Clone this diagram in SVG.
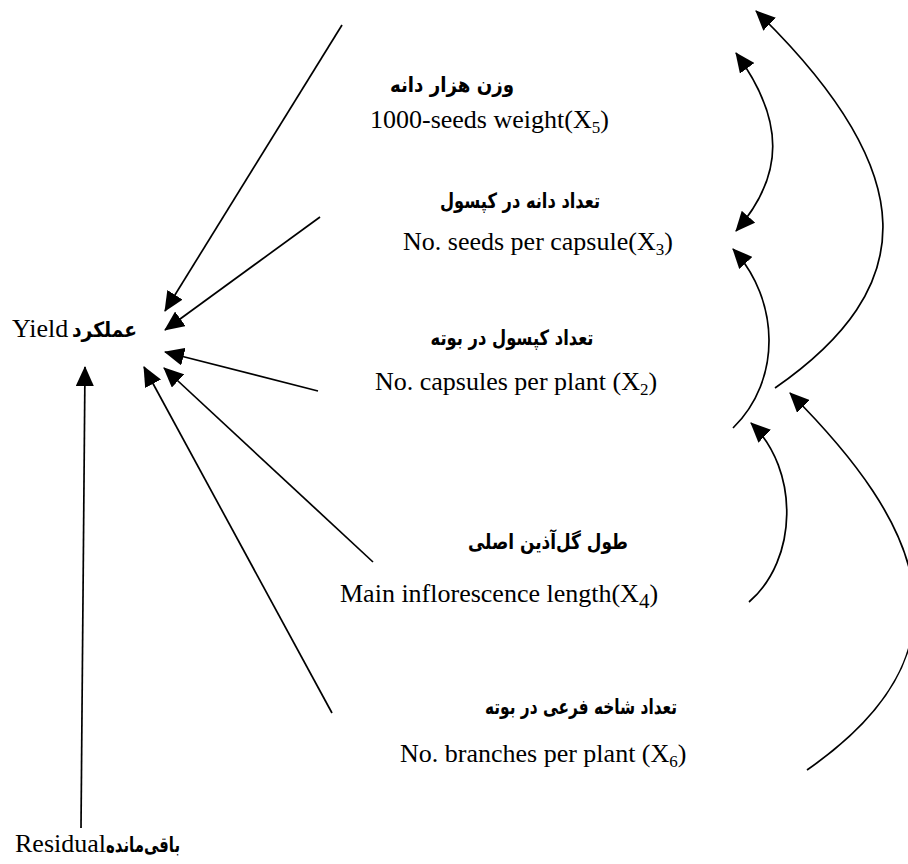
<svg xmlns="http://www.w3.org/2000/svg" width="908" height="864" viewBox="0 0 908 864">
<style>
.en{font-family:"Liberation Serif","Times New Roman",serif;font-size:26px;fill:#000}
.fa{font-family:"DejaVu Sans",sans-serif;font-weight:bold;font-size:21px;fill:#000}
.sub{font-size:17px}
.edge{fill:none;stroke:#000;stroke-width:1.7;marker-end:url(#ah)}
</style>
<defs>
<marker id="ah" markerUnits="userSpaceOnUse" markerWidth="20" markerHeight="18" viewBox="0 0 20 18" refX="19" refY="9" orient="auto">
<path d="M0,0 L20,9 L0,18 Z" fill="#000"/>
</marker>
<marker id="ahs" markerUnits="userSpaceOnUse" markerWidth="20" markerHeight="18" viewBox="0 0 20 18" refX="19" refY="9" orient="auto-start-reverse">
<path d="M0,0 L20,9 L0,18 Z" fill="#000"/>
</marker>
</defs>
<g id="connectors">
<path class="edge" d="M342,25 L165,311"/>
<path class="edge" d="M320,217 L165,330"/>
<path class="edge" d="M318,391 L165,352"/>
<path class="edge" d="M373,562 L164,368"/>
<path class="edge" d="M332,713 L144,367"/>
<path class="edge" d="M81,828 L85,367"/>
<path class="edge" d="M775,388 C919,288 925,175 756,11"/>
<path class="edge" style="marker-start:url(#ahs)" d="M736,53 C785,120 785,175 736,231"/>
<path class="edge" d="M733,428 C782,380 780,300 733,249"/>
<path class="edge" d="M749,602 C798,560 800,470 751,423"/>
<path class="edge" d="M807,770 C980,650 922,525 790,393"/>
</g>
<g id="node-yield">
<text class="en" x="12" y="337" font-size="24">Yield</text>
<text class="fa" x="72" y="337" font-size="19" textLength="65" lengthAdjust="spacingAndGlyphs">عملکرد</text>
</g>
<g id="node-x5">
<text class="fa" x="452" y="92" text-anchor="middle" textLength="124" lengthAdjust="spacingAndGlyphs">وزن هزار دانه</text>
<text class="en" x="370" y="128">1000-seeds weight(X<tspan class="sub" dy="5">5</tspan><tspan dy="-5">)</tspan></text>
</g>
<g id="node-x3">
<text class="fa" x="520" y="208" text-anchor="middle" textLength="160" lengthAdjust="spacingAndGlyphs">تعداد دانه در کپسول</text>
<text class="en" x="403" y="250">No. seeds per capsule(X<tspan class="sub" dy="5">3</tspan><tspan dy="-5">)</tspan></text>
</g>
<g id="node-x2">
<text class="fa" x="512" y="345" text-anchor="middle" textLength="163" lengthAdjust="spacingAndGlyphs">تعداد کپسول در بوته</text>
<text class="en" x="375" y="390">No. capsules per plant (X<tspan class="sub" dy="5">2</tspan><tspan dy="-5">)</tspan></text>
</g>
<g id="node-x4">
<text class="fa" x="548" y="549" text-anchor="middle" textLength="160" lengthAdjust="spacingAndGlyphs">طول گل‌آذین اصلی</text>
<text class="en" x="340" y="602" font-size="32">Main inflorescence length(X<tspan font-size="21" dy="6">4</tspan><tspan dy="-6">)</tspan></text>
</g>
<g id="node-x6">
<text class="fa" x="581" y="714" text-anchor="middle" textLength="192" lengthAdjust="spacingAndGlyphs">تعداد شاخه فرعی در بوته</text>
<text class="en" x="400" y="762" font-size="27">No. branches per plant (X<tspan class="sub" dy="5">6</tspan><tspan dy="-5">)</tspan></text>
</g>
<g id="node-residual">
<text class="en" x="15" y="852" font-size="21">Residual</text>
<text class="fa" x="180" y="852" font-size="18" text-anchor="end" textLength="74" lengthAdjust="spacingAndGlyphs">باقی‌مانده</text>
</g>
</svg>
